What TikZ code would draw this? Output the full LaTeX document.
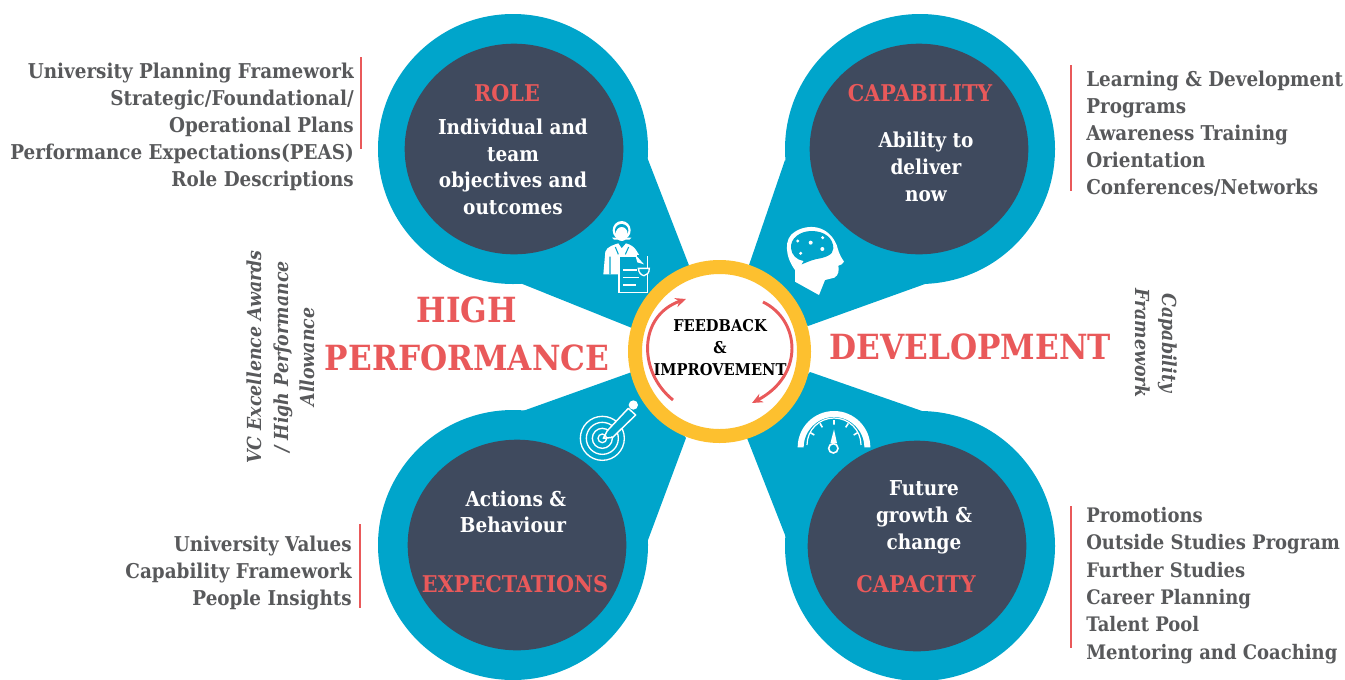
\documentclass[tikz,border=0pt]{standalone}
\usepackage{fontspec}
\setmainfont{DejaVu Serif Condensed}[BoldFont={DejaVu Serif Condensed Bold},ItalicFont={DejaVu Serif Condensed Italic},BoldItalicFont={DejaVu Serif Condensed Bold Italic}]
\usetikzlibrary{arrows.meta,calc,shapes.geometric}
\definecolor{tealc}{HTML}{00A5CB}
\definecolor{darkc}{HTML}{3F4A5E}
\definecolor{redc}{HTML}{E9595A}
\definecolor{greyc}{HTML}{58595B}
\definecolor{goldc}{HTML}{FDC02F}
\newcommand{\fs}[1]{\fontsize{#1}{#1}\selectfont}
\tikzset{
 x=0.75pt,y=-0.75pt,
 tealdisc/.style={fill=tealc,draw=none},
 darkdisc/.style={fill=darkc,draw=none},
 title/.style={font=\fs{17.3}\bfseries,text=redc,inner sep=0},
 body/.style={font=\fs{15.4}\bfseries,text=white,align=center,inner sep=0},
 leftlist/.style={font=\fs{15.3}\bfseries,text=greyc,align=right,anchor=east,inner sep=0},
 rightlist/.style={font=\fs{15}\bfseries,text=greyc,align=left,anchor=west,inner sep=0},
 big/.style={font=\fs{26}\bfseries,text=redc,inner sep=0,align=center},
 side/.style={font=\fs{14.5}\bfseries\itshape,text=greyc,align=center,inner sep=0},
 rule/.style={draw=redc,line width=1.3pt},
 cyc/.style={draw=redc,line width=2.2pt},
}
\begin{document}
\begin{tikzpicture}
\useasboundingbox (0,0) rectangle (1345,679);
\fill[tealc] (647,157) -- (690,268) -- (632,328) -- (520,283) -- cycle;
\fill[tealc] (785,160) -- (748,268) -- (808,326) -- (925,284) -- cycle;
\fill[tealc] (520,412) -- (632,372) -- (686,438) -- (648,540) -- cycle;
\fill[tealc] (925,412) -- (810,372) -- (747,438) -- (787,540) -- cycle;
\node[tealdisc,circle,minimum size=202.5pt,inner sep=0] (roleT) at (513,149) {};
\node[tealdisc,circle,minimum size=202.5pt,inner sep=0] (capT) at (920,149) {};
\node[tealdisc,circle,minimum size=202.5pt,inner sep=0] (expT) at (513,545) {};
\node[tealdisc,circle,minimum size=202.5pt,inner sep=0] (cpcT) at (920,546) {};
\node[darkdisc,ellipse,minimum width=164pt,minimum height=158pt,inner sep=0] (roleD) at (514,149) {};
\node[darkdisc,ellipse,minimum width=164pt,minimum height=158pt,inner sep=0] (capD) at (919,149) {};
\node[darkdisc,ellipse,minimum width=164pt,minimum height=158pt,inner sep=0] (expD) at (517,545) {};
\node[darkdisc,ellipse,minimum width=164pt,minimum height=158pt,inner sep=0] (cpcD) at (917,546) {};
\node[circle,fill=white,draw=goldc,line width=10.5pt,minimum size=126.75pt,inner sep=0] (hub) at (719.5,351.5) {};
\node[title] (t1) at (507,93) {ROLE};
\node[body] (b1) at (513,167) {Individual and\\[4.6pt]team\\[4.6pt]objectives and\\[4.6pt]outcomes};
\node[title] (t2) at (920,93) {CAPABILITY};
\node[body] (b2) at (926,167) {Ability to\\[4.6pt]deliver\\[4.6pt]now};
\node[title] (t3) at (515,584) {EXPECTATIONS};
\node[body,align=right] (b3) at (513,512) {Actions \&\\[4.6pt]Behaviour};
\node[title] (t4) at (916,584) {CAPACITY};
\node[body] (b4) at (924,517) {Future\\[4.8pt]growth \&\\[4.8pt]change};
\node[leftlist] (l1) at (354,127) {University Planning Framework\\[5pt]Strategic/Foundational/\\[5pt]Operational Plans\\[5pt]Performance Expectations(PEAS)\\[5pt]Role Descriptions};
\node[leftlist] (l3) at (352,573) {University Values\\[5pt]Capability Framework\\[5pt]People Insights};
\node[rightlist,font=\fs{15.3}\bfseries] (r2) at (1086,134) {Learning \& Development\\[5pt]Programs\\[5pt]Awareness Training\\[5pt]Orientation\\[5pt]Conferences/Networks};
\node[rightlist] (r4) at (1086,585.5) {Promotions\\[5.5pt]Outside Studies Program\\[5.5pt]Further Studies\\[5.5pt]Career Planning\\[5.5pt]Talent Pool\\[5.5pt]Mentoring and Coaching};
\coordinate (r1a) at (361,57);\coordinate (r1b) at (361,149);
\draw[rule] (r1a) -- (r1b);
\coordinate (r2a) at (1071,65);\coordinate (r2b) at (1071,191);
\draw[rule] (r2a) -- (r2b);
\coordinate (r3a) at (360,524);\coordinate (r3b) at (360,608);
\draw[rule] (r3a) -- (r3b);
\coordinate (r4a) at (1071,506);\coordinate (r4b) at (1071,648);
\draw[rule] (r4a) -- (r4b);
\node[big] (hp) at (467,333.5) {HIGH\\[10pt]PERFORMANCE};
\node[big] (dv) at (970,347) {DEVELOPMENT};
\node[side,rotate=90] (s1) at (281,357) {VC Excellence Awards\\[5.5pt]/ High Performance\\[5.5pt]Allowance};
\node[side,rotate=-90] (s2) at (1156,343) {Capability\\[5.5pt]Framework};
\node[font=\fs{12.2}\bfseries,text=black,align=center,inner sep=0] (fb) at (720,347.5) {FEEDBACK\\[4.6pt]\&\\[4.6pt]IMPROVEMENT};
\coordinate (c1a) at (673,400);\coordinate (c1b) at (686,299);
\coordinate (c2a) at (763,302);\coordinate (c2b) at (752,403);
\draw[cyc,-{Stealth[length=8pt,width=7pt]}] (c1a) .. controls (638,372) and (638,316) .. (c1b);
\draw[cyc,-{Stealth[length=8pt,width=7pt]}] (c2a) .. controls (800,320) and (805,375) .. (c2b);
% doctor icon
\begin{scope}[shift={(590,215)},x=0.25pt,y=-0.25pt]
\fill[white] (40,178) -- (46,110) .. controls (50,95) and (75,88) .. (85,85) -- (95,100) -- (108,85) .. controls (120,88) and (132,95) .. (138,105) -- (160,140) -- (135,125) -- (85,125) -- (85,178) -- cycle;
\fill[white] (95,46) ellipse (27 and 28);
\fill[tealc] (95,46) ellipse (20 and 19);
\fill[white] (95,57) ellipse (18 and 21);
\fill[white] (66,68) -- (124,68) -- (118,74) -- (72,74) -- cycle;
\draw[tealc,line width=0.8pt] (76,96) -- (85,118) (116,96) -- (106,118) (60,125) -- (60,178);
\fill[white] (85,122) rectangle (175,235);
\fill[tealc] (90,127) rectangle (170,230);
\draw[white,line width=1pt] (100,165) -- (140,165) (100,188) -- (148,188) (100,210) -- (138,210);
\fill[tealc] (140,120) rectangle (170,150);
\fill[white] (135,118) -- (162,148) -- (142,142) -- cycle;
\draw[white,line width=1pt,fill=tealc] (145,160) -- (178,160) .. controls (178,175) and (170,180) .. (162,182) .. controls (152,180) and (146,172) .. (145,160) -- cycle;
\end{scope}
% brain icon
\begin{scope}[shift={(775,215)},x=0.25pt,y=-0.25pt]
\fill[white] (60,165) .. controls (30,125) and (25,70) .. (60,50) .. controls (100,25) and (160,30) .. (185,90) .. controls (190,105) and (190,115) .. (207,140) .. controls (205,148) and (195,150) .. (190,152) .. controls (192,165) and (192,180) .. (178,188) -- (150,195) -- (132,240) -- (60,200) -- cycle;
\fill[tealc] (48,100) .. controls (45,70) and (75,48) .. (110,48) .. controls (150,48) and (175,70) .. (175,100) .. controls (175,120) and (150,128) .. (125,132) .. controls (110,135) and (95,142) .. (80,148) -- (86,138) .. controls (65,135) and (50,120) .. (48,100) -- cycle;
\fill[white] (68,78) circle (5) (107,83) circle (6) (143,68) circle (5) (142,102) circle (6) (77,115) circle (5);
\end{scope}
% target icon
\begin{scope}[shift={(570,390)},x=0.25pt,y=-0.25pt]
\draw[white,line width=1pt] (97,145) circle (66) (97,145) circle (48) (97,145) circle (30) (97,145) circle (13);
\fill[tealc] (112,125) -- (178,50) -- (200,68) -- (128,142) -- cycle;
\draw[white,line width=1.1pt,line join=round] (100,145) -- (112,122) -- (175,55) -- (197,75) -- (128,142) -- cycle;
\fill[white] (190,45) circle (14);
\end{scope}
% gauge icon
\begin{scope}[shift={(785,400)},x=0.25pt,y=-0.25pt]
\fill[white] (38,142) arc[start angle=180,end angle=360,radius=109] -- (238,142) arc[start angle=360,end angle=180,radius=91] -- cycle;
\draw[white,line width=0.9pt] (66,135) arc[start angle=180,end angle=360,radius=81];
\draw[white,line width=1.2pt] (147,60) -- (147,74) (105,70) -- (112,82) (190,70) -- (182,82) (76,98) -- (88,105) (218,98) -- (206,105);
\fill[white] (147,88) -- (156,130) -- (136,130) -- cycle;
\draw[white,line width=1.2pt,fill=tealc] (145,145) circle (14);
\end{scope}
\end{tikzpicture}
\end{document}
